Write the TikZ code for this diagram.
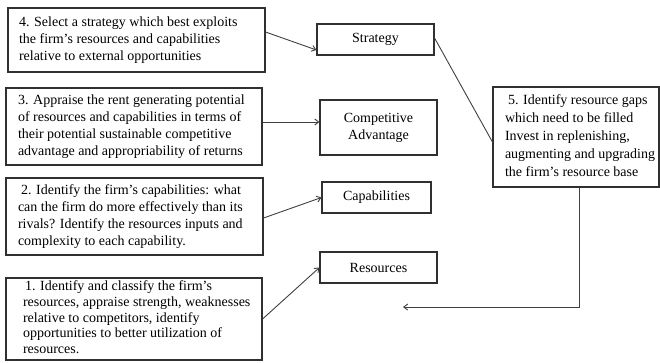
\documentclass[tikz,border=0pt]{standalone}
\usepackage{fontspec}
\setmainfont{Liberation Serif}
\usetikzlibrary{arrows.meta,positioning}
\definecolor{edge}{HTML}{303030}
\definecolor{conn}{HTML}{404040}
\newcommand{\boxtext}[2]{\makebox[#1][l]{\begin{tabular}{@{}l@{}}#2\end{tabular}}}
\tikzset{
  box/.style={draw=edge,line width=1.1pt,inner sep=0pt,font=\fontsize{14}{17}\selectfont},
  tbox/.style={box,inner xsep=11pt},
  sbox/.style={box,align=center},
  ar/.style={-{Straight Barb[length=4pt,width=6pt]},line width=0.9pt,draw=conn},
  ln/.style={line width=0.9pt,draw=conn},
}

\begin{document}
\begin{tikzpicture}[x=1pt,y=-1pt]
  \useasboundingbox (0,0) rectangle (660,362);
  % steps on the left
  \node[tbox, minimum height=64pt] (sel) at (136.5,40)
    {\boxtext{235pt}{4. Select a strategy which best exploits\\the firm’s resources and capabilities\\relative to external opportunities}};
  \node[tbox, inner xsep=12pt, minimum height=77pt] (rent) at (134,126.5)
    {\boxtext{232pt}{3. Appraise the rent generating potential\\of resources and capabilities in terms of\\their potential sustainable competitive\\advantage and appropriability of returns}};
  \node[tbox, inner xsep=12pt, minimum height=77pt] (capid) at (134.5,216.5)
    {\boxtext{233pt}{\hspace{3pt}2. Identify the firm’s capabilities: what\\can the firm do more effectively than its\\rivals? Identify the resources inputs and\\complexity to each capability.}};
  \node[tbox, inner xsep=17pt, minimum height=82pt,
        font=\fontsize{14}{15.6}\selectfont] (resid) at (134,319)
    {\boxtext{222pt}{\hspace{2pt}1. Identify and classify the firm's\\resources, appraise strength, weaknesses\\relative to competitors, identify\\opportunities to better utilization of\\resources.}};
  % middle column
  \node[sbox, minimum width=117pt, minimum height=31pt] (strat) at (375.5,39.5) {Strategy};
  \node[sbox, minimum width=117pt, minimum height=55pt] (adv) at (378.5,127.5) {Competitive\\Advantage};
  \node[sbox, minimum width=109pt, minimum height=31pt] (cap) at (376.5,197.5) {Capabilities};
  \node[sbox, minimum width=117pt, minimum height=31pt] (res) at (378.5,267.5) {Resources};
  % gaps on the right
  \node[tbox, inner xsep=12pt, minimum height=100pt,
        font=\fontsize{14}{18}\selectfont] (gap) at (576,137)
    {\boxtext{142pt}{\hspace{3pt}5. Identify resource gaps\\which need to be filled\\Invest in replenishing,\\augmenting and upgrading\\the firm’s resource base}};
  \coordinate (ret) at (403,307);

  \draw[ar] ([yshift=8pt]sel.east) -- ([yshift=-10.5pt]strat.west);
  \draw[ar] ([yshift=4.5pt]rent.east) -- ([yshift=5.5pt]adv.west);
  \draw[ar] ([yshift=-1.5pt]capid.east) -- (cap.west);
  \draw[ar] (resid.east) -- (res.west);
  \draw[ln] ([yshift=1.5pt]strat.east) -- ([yshift=-5pt]gap.west);
  \draw[ar] ([xshift=3pt]gap.south) |- (ret);
\end{tikzpicture}
\end{document}
